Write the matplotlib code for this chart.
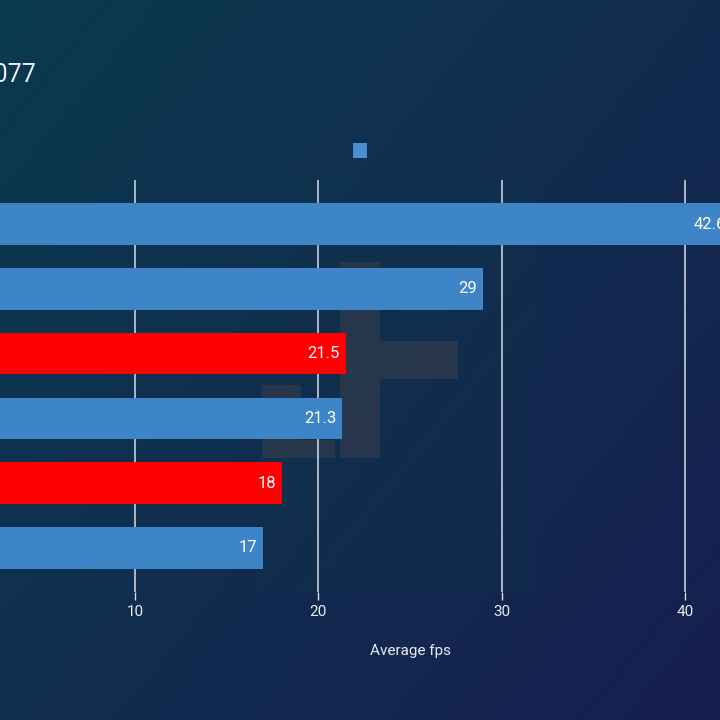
import numpy as np
import matplotlib.pyplot as plt
from matplotlib.patches import Rectangle
from matplotlib.colors import LinearSegmentedColormap

plt.rcParams['font.family'] = ['Roboto', 'DejaVu Sans']

# data (left part of the chart is cropped in the reference)
configs = ["Config 1", "Config 2", "Config 3", "Config 4", "Config 5", "Config 6"]
avg_fps = [42.6, 29, 21.5, 21.3, 18, 17]
highlight = [False, False, True, False, True, False]

blue = "#3d85c6"
red = "#ff0000"

fig = plt.figure(figsize=(7.2, 7.2), dpi=100)

# background gradient
bg = fig.add_axes([0, 0, 1, 1], zorder=-10)
bg.axis("off")
xx, yy = np.meshgrid(np.linspace(0, 1, 200), np.linspace(0, 1, 200))
t = np.clip(0.55 * xx + 0.45 * (1 - yy), 0, 1)
cmap = LinearSegmentedColormap.from_list("bgc", ["#0b3a4e", "#112d50", "#161f4f"])
bg.imshow(t, cmap=cmap, extent=[0, 1, 0, 1], aspect="auto", origin="lower")
bg.set_xlim(0, 1)
bg.set_ylim(0, 1)

# faint watermark logo
def px_rect(x0, y0, x1, y1, color, alpha):
    bg.add_patch(Rectangle((x0 / 720, 1 - y1 / 720), (x1 - x0) / 720, (y1 - y0) / 720,
                           facecolor=color, edgecolor="none", alpha=alpha))

px_rect(260, 180, 535, 592, "#0c3a48", 0.15)
px_rect(340, 262, 380, 458, "#3a3f4c", 0.55)
px_rect(380, 341, 458, 379, "#3a3f4c", 0.55)
px_rect(262, 385, 301, 440, "#3a3f4c", 0.55)
px_rect(262, 440, 335, 458, "#3a3f4c", 0.55)

# main axes, extends past the left/right edges like the reference crop
ax = fig.add_axes([-48 / 720, 128 / 720, 916 / 720, 412 / 720])
ax.set_facecolor("none")
for s in ax.spines.values():
    s.set_visible(False)

ypos = np.arange(len(configs))
colors = [red if h else blue for h in highlight]
bars = ax.barh(ypos, avg_fps, height=0.64, color=colors, zorder=3)

for b, v in zip(bars, avg_fps):
    ax.text(b.get_width() - 0.33, b.get_y() + b.get_height() / 2, f"{v:g}",
            ha="right", va="center", color="white", fontsize=12, zorder=4)

ax.set_xlim(0, 50)
ax.set_ylim(len(configs) - 0.32, -0.68)
ax.set_xticks([10, 20, 30, 40])
ax.set_yticks([])
ax.grid(axis="x", color="#d8dce6", linewidth=1.1, zorder=1)
ax.tick_params(axis="x", colors="#d8dce6", labelcolor="#e8ecf2", labelsize=11,
               length=6, width=1, pad=3)
ax.set_xlabel("Average fps", color="#e8ecf2", fontsize=11, labelpad=18)

# title (cut off on the left in the reference)
fig.text(36 / 720, 1 - 75 / 720, "Cyberpunk 2077", ha="right", va="center",
         color="#e8eef2", fontsize=18)

# legend swatch
bg.add_patch(Rectangle((353 / 720, 1 - 158 / 720), 14 / 720, 15 / 720,
                       facecolor="#4a8fd4", edgecolor="none"))

fig.savefig("out.png", dpi=100)
